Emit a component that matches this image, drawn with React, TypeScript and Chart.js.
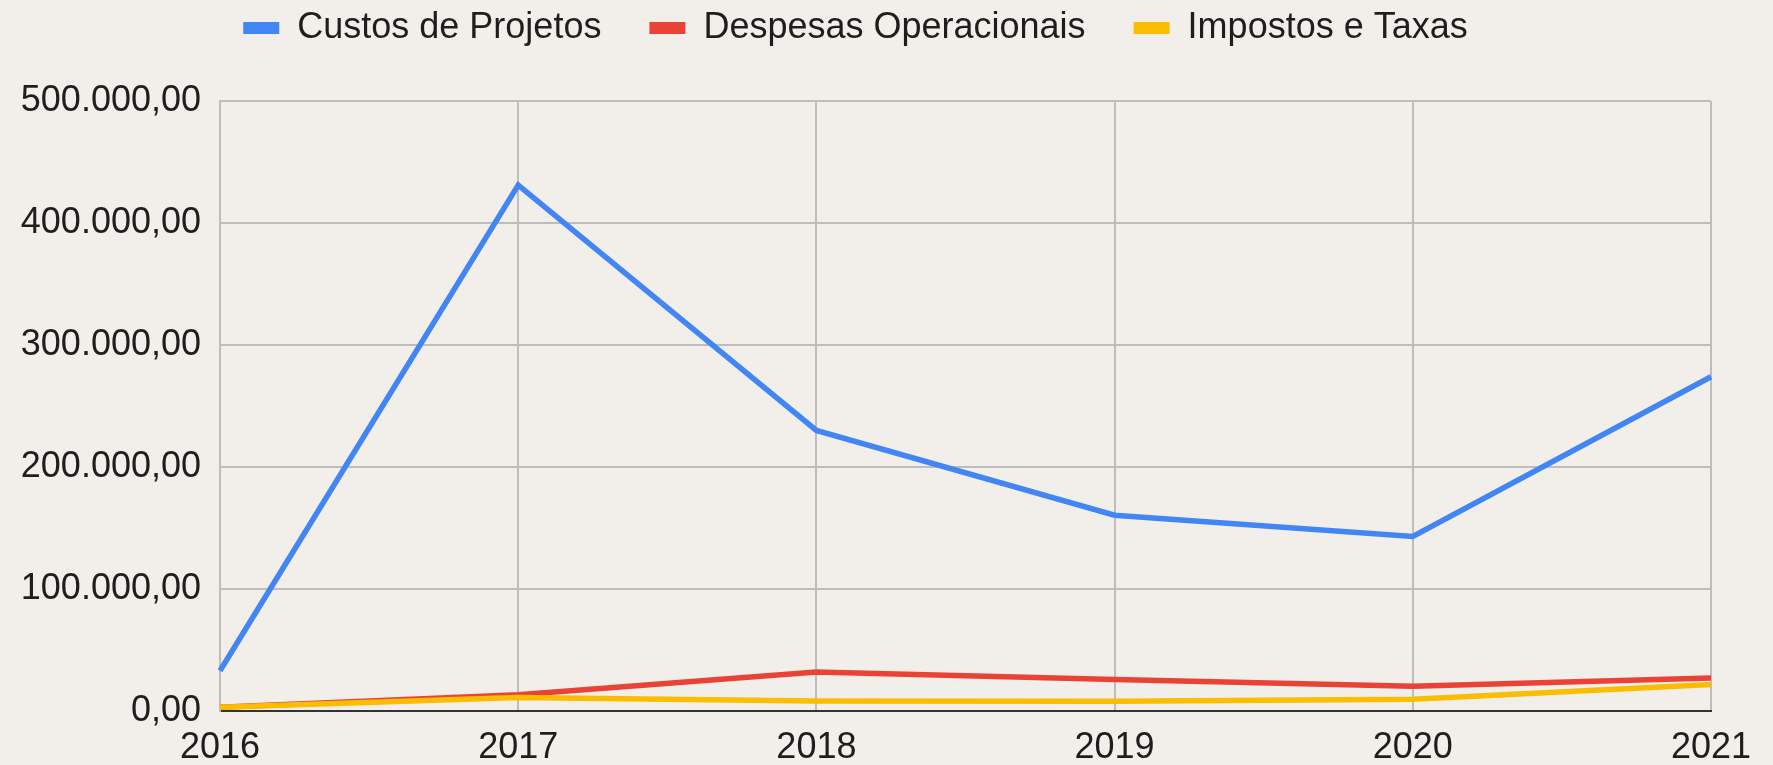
import React, { useEffect, useRef } from "react";
import { Chart, registerables } from "chart.js";

Chart.register(...registerables);

const years = ["2016", "2017", "2018", "2019", "2020", "2021"];
const custosProjetos = [33000, 431000, 230000, 160500, 143000, 274000];
const despesasOperacionais = [3000, 13400, 31900, 25900, 20200, 27000];
const impostosTaxas = [3000, 11000, 8200, 7900, 9600, 21800];
const seriesNames = ["Custos de Projetos", "Despesas Operacionais", "Impostos e Taxas"];
const seriesColors = ["#4285F4", "#EA4335", "#FBBC04"];
const yMin = 0;
const yMax = 500000;
const yStep = 100000;

function fmtBR(v: number): string {
  const fixed = Math.abs(v).toFixed(2);
  const [i, d] = fixed.split(".");
  const withDots = i.replace(/\B(?=(\d{3})+(?!\d))/g, ".");
  return (v < 0 ? "-" : "") + withDots + "," + d;
}

const FONT = "'Liberation Sans', Arial, Helvetica, sans-serif";

const legendSpacer = {
  id: "legendSpacer",
  beforeInit(chart: any) {
    const legend = chart.legend;
    if (!legend) return;
    const orig = legend.fit;
    legend.fit = function () {
      orig.call(this);
      this.height = 139;
    };
  },
};

export default function App() {
  const ref = useRef<HTMLCanvasElement | null>(null);

  useEffect(() => {
    if (!ref.current) return;
    const data = [custosProjetos, despesasOperacionais, impostosTaxas];
    const chart = new Chart(ref.current, {
      type: "line",
      data: {
        labels: years,
        datasets: data.map((d, i) => ({
          label: seriesNames[i],
          data: d,
          borderColor: seriesColors[i],
          backgroundColor: seriesColors[i],
          borderWidth: 5.5,
          pointRadius: 0,
          pointHoverRadius: 0,
          tension: 0,
          fill: false,
          order: 2 - i,
        })),
      },
      plugins: [legendSpacer],
      options: {
        animation: false,
        responsive: false,
        maintainAspectRatio: false,
        layout: { padding: { top: -38, left: 0, right: 62, bottom: 0 } },
        font: { family: FONT },
        plugins: {
          tooltip: { enabled: false },
          legend: {
            display: true,
            position: "top",
            align: "center",
            labels: {
              font: { family: FONT, size: 36 },
              color: "#1e1e1e",
              boxWidth: 36,
              boxHeight: 12,
              padding: 48,
              sort: (a: any, b: any) => a.datasetIndex - b.datasetIndex,
              generateLabels: (c: any) =>
                (Chart.defaults.plugins.legend.labels as any)
                  .generateLabels(c)
                  .map((l: any) => ({ ...l, lineWidth: 0 })),
            },
          },
        },
        scales: {
          x: {
            type: "category",
            offset: false,
            grid: { color: "#bdbdbd", lineWidth: 2, drawTicks: false },
            border: { color: "#333", width: 2 },
            ticks: {
              font: { family: FONT, size: 36 },
              color: "#1e1e1e",
              padding: 15,
              maxRotation: 0,
              autoSkip: false,
            },
            afterFit: (s: any) => {
              s.height = 54;
            },
          },
          y: {
            min: yMin,
            max: yMax,
            grid: {
              color: (ctx: any) => (ctx.tick && ctx.tick.value === 0 ? "#333" : "#bdbdbd"),
              lineWidth: 2,
              drawTicks: false,
            },
            border: { color: "#bdbdbd", width: 2 },
            ticks: {
              stepSize: yStep,
              font: { family: FONT, size: 36 },
              color: "#1e1e1e",
              padding: 19,
              callback: (v: any) => fmtBR(Number(v)),
            },
            afterFit: (s: any) => {
              s.width = 220;
            },
          },
        },
      },
    });
    return () => chart.destroy();
  }, []);

  return (
    <div
      style={{
        position: "fixed",
        left: 0,
        top: 0,
        width: 1773,
        height: 765,
        background: "#f2efea",
        overflow: "hidden",
      }}
    >
      <canvas ref={ref} width={1773} height={765} style={{ display: "block", width: 1773, height: 765 }} />
    </div>
  );
}
